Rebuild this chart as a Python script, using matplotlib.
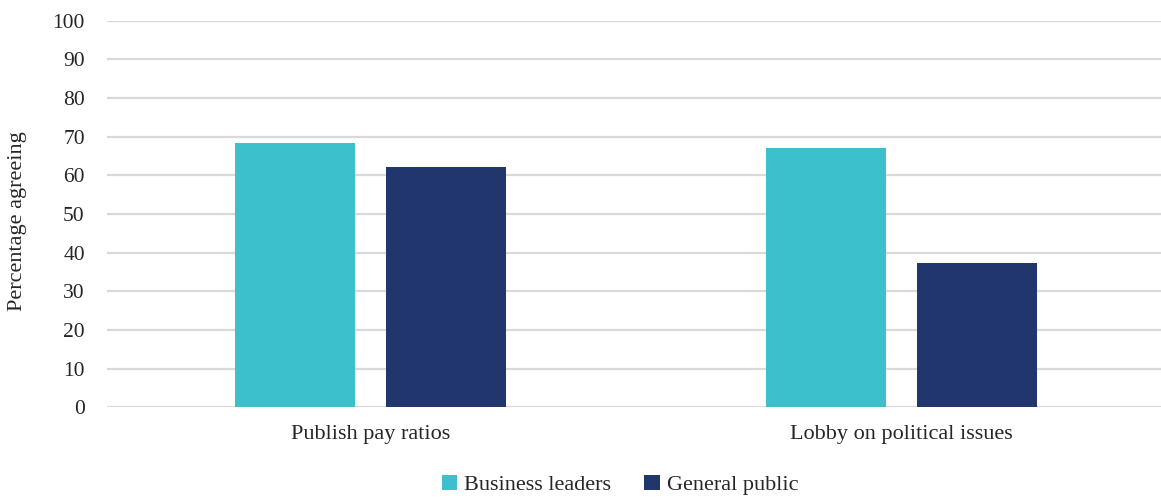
import matplotlib.pyplot as plt
import numpy as np

# Survey results: share agreeing that companies should ...
categories = ['Publish pay ratios', 'Lobby on political issues']
business_leaders = [68.4, 67.1]
general_public = [62.2, 37.4]

plt.rcParams['font.family'] = ['Liberation Serif', 'DejaVu Serif']

teal = '#3CC0CB'
navy = '#22366E'

fig = plt.figure(figsize=(11.61, 4.99), dpi=100)
ax = fig.add_axes([107 / 1161, 1 - 407.3 / 499, 1 - 107 / 1161, (407.3 - 20.7) / 499])

x = np.arange(len(categories))
width = 0.226
offset = 0.143

ax.bar(x - offset, business_leaders, width, color=teal, label='Business leaders', zorder=3)
ax.bar(x + offset, general_public, width, color=navy, label='General public', zorder=3)

ax.set_xlim((107 - 370.5) / 531, (1161 - 370.5) / 531)
ax.set_ylim(0, 100)
ax.set_yticks(range(0, 101, 10))
ax.set_xticks(x)
ax.set_xticklabels(categories)
ax.grid(axis='y', color='#D9D9D9', linewidth=1.6, zorder=0)
ax.tick_params(axis='y', length=0, pad=16, labelsize=15.5, colors='#262626')
ax.tick_params(axis='x', length=0, pad=13, labelsize=16, colors='#262626')
for spine in ax.spines.values():
    spine.set_visible(False)

fig.text(18 / 1161, 1 - 221 / 499, 'Percentage agreeing', rotation=90,
         ha='center', va='center', fontsize=16, color='#262626')

fig.legend(loc='center', bbox_to_anchor=(620 / 1161, 1 - 485 / 499), ncol=2,
           frameon=False, fontsize=16, handlelength=0.7, handleheight=0.7,
           handletextpad=0.3, columnspacing=1.5, labelcolor='#262626')

fig.savefig('out.png', dpi=100)
